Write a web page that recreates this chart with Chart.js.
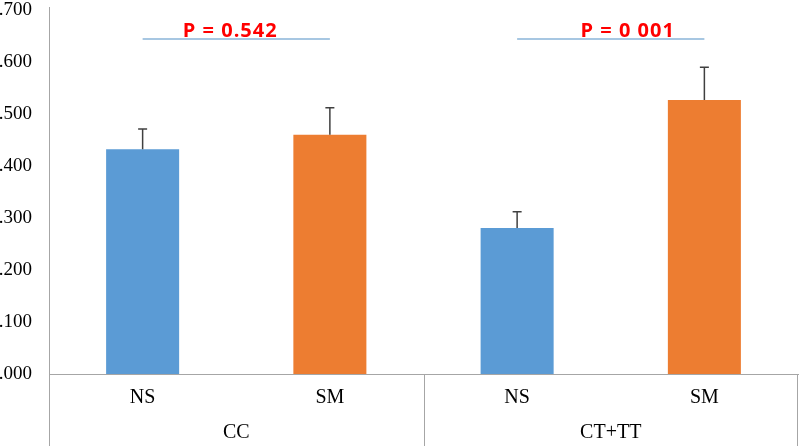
<!DOCTYPE html>
<html>
<head>
<meta charset="utf-8">
<script src="https://cdn.jsdelivr.net/npm/chart.js@4"></script>
<style>
  html, body { margin: 0; padding: 0; background: #fff; overflow: hidden; }
  #wrap { position: relative; width: 799px; height: 446px; overflow: hidden; }
  #wrap canvas { position: absolute; left: -9px; top: 0; }
</style>
</head>
<body>
<div id="wrap"><canvas id="myChart" width="808" height="446"></canvas></div>
<script>
// data
const groups = ["CC", "CT+TT"];
const subLabels = ["NS", "SM", "NS", "SM"];
const means = [0.432, 0.460, 0.281, 0.527];
const errors = [0.039, 0.052, 0.031, 0.063];
const barColors = ["#5b9bd5", "#ed7d31", "#5b9bd5", "#ed7d31"];
const pTexts = ["P = 0.542", "P = 0 001"];
const pLevel = 0.644;

const serif = "'Liberation Serif', 'Times New Roman', serif";

// error bars on top of each bar
const errorBars = {
    id: "errorBars",
    afterDatasetsDraw(chart) {
        const ctx = chart.ctx;
        const y = chart.scales.y;
        const meta = chart.getDatasetMeta(0);
        ctx.save();
        ctx.strokeStyle = "#404040";
        ctx.lineWidth = 1.5;
        meta.data.forEach((bar, i) => {
            const top = y.getPixelForValue(means[i] + errors[i]);
            ctx.beginPath();
            ctx.moveTo(bar.x, bar.y);
            ctx.lineTo(bar.x, top);
            ctx.moveTo(bar.x - 4.5, top);
            ctx.lineTo(bar.x + 4.5, top);
            ctx.stroke();
        });
        ctx.restore();
    }
};

// box lines under the plot and p-value brackets
const extras = {
    id: "extras",
    afterDraw(chart) {
        const ctx = chart.ctx;
        const x = chart.scales.x;
        const y = chart.scales.y;
        const area = chart.chartArea;
        ctx.save();
        ctx.strokeStyle = "#a6a6a6";
        ctx.lineWidth = 1;
        const mid = (x.getPixelForValue(1) + x.getPixelForValue(2)) / 2;
        [area.left, mid, area.right - 1].forEach(px => {
            ctx.beginPath();
            ctx.moveTo(Math.round(px) + 0.5, area.bottom);
            ctx.lineTo(Math.round(px) + 0.5, chart.height);
            ctx.stroke();
        });
        // y axis runs a little above the top tick
        ctx.beginPath();
        ctx.moveTo(Math.round(area.left) + 0.5, area.top);
        ctx.lineTo(Math.round(area.left) + 0.5, area.top - 3);
        ctx.stroke();

        const ly = y.getPixelForValue(pLevel);
        pTexts.forEach((t, g) => {
            const x1 = x.getPixelForValue(g * 2);
            const x2 = x.getPixelForValue(g * 2 + 1);
            ctx.strokeStyle = "#8ab4d8";
            ctx.lineWidth = 1.5;
            ctx.beginPath();
            ctx.moveTo(x1, ly);
            ctx.lineTo(x2, ly);
            ctx.stroke();
            ctx.fillStyle = "#ff0000";
            ctx.font = "bold 20px 'Open Sans', 'Liberation Sans', sans-serif";
            ctx.letterSpacing = "1px";
            ctx.textAlign = "center";
            ctx.textBaseline = "alphabetic";
            const cx = g === 0 ? (x1 + x2) / 2 - 6 : (x1 + x2) / 2 + 17;
            ctx.fillText(t, cx, ly - 2);
        });
        ctx.restore();
    }
};

const ctx = document.getElementById("myChart").getContext("2d");
const myChart = new Chart(ctx, {
    type: "bar",
    data: {
        labels: subLabels,
        datasets: [{
            data: means,
            backgroundColor: barColors,
            borderWidth: 0,
            barPercentage: 0.39,
            categoryPercentage: 1
        }]
    },
    options: {
        responsive: false,
        animation: false,
        layout: { padding: { right: 1, top: 0, bottom: 0, left: 0 } },
        plugins: {
            legend: { display: false },
            tooltip: { enabled: false }
        },
        scales: {
            y: {
                min: 0,
                max: 0.7,
                ticks: {
                    stepSize: 0.1,
                    padding: 17,
                    color: "#000",
                    font: { family: serif, size: 19 },
                    callback: v => v.toFixed(3)
                },
                grid: { display: false, drawTicks: false },
                border: { display: true, color: "#a6a6a6", width: 1 },
                afterFit: s => { s.width = 58; s.paddingTop = 10; }
            },
            x: {
                ticks: {
                    padding: 12,
                    color: "#000",
                    font: { family: serif, size: 20 }
                },
                grid: { display: false, drawTicks: false },
                border: { display: true, color: "#a6a6a6", width: 1 },
                afterFit: s => { s.height = 41; }
            },
            x2: {
                type: "category",
                position: "bottom",
                labels: groups,
                ticks: {
                    padding: 6,
                    color: "#000",
                    font: { family: serif, size: 20 }
                },
                grid: { display: false, drawTicks: false },
                border: { display: false },
                afterFit: s => { s.height = 31; }
            }
        }
    },
    plugins: [errorBars, extras]
});
</script>
</body>
</html>
